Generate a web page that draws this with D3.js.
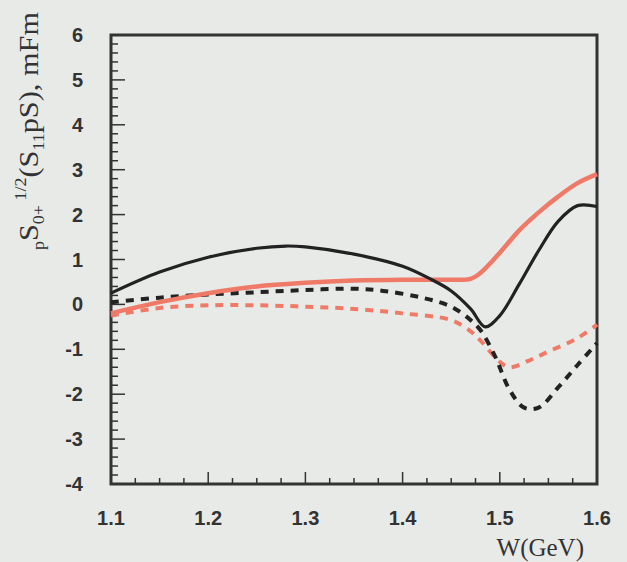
<!DOCTYPE html>
<html><head><meta charset="utf-8">
<script src="https://cdn.jsdelivr.net/npm/d3@7"></script>
<style>body{margin:0;background:#e8eae8;} svg{display:block;}</style>
</head><body>
<svg id="c" width="627" height="562"></svg>
<script>
const blackSolidW = [1.10,1.15,1.20,1.25,1.28,1.30,1.35,1.40,1.43,1.45,1.47,1.485,1.50,1.52,1.54,1.56,1.58,1.60];
const blackSolidV = [0.25,0.72,1.05,1.25,1.30,1.28,1.12,0.85,0.55,0.30,-0.10,-0.50,-0.25,0.45,1.20,1.85,2.20,2.18];
const redSolidW = [1.10,1.15,1.20,1.25,1.30,1.35,1.40,1.45,1.47,1.48,1.50,1.52,1.54,1.56,1.58,1.60];
const redSolidV = [-0.20,0.05,0.25,0.40,0.48,0.53,0.55,0.55,0.57,0.70,1.15,1.65,2.05,2.40,2.70,2.90];
const blackDashW = [1.10,1.15,1.20,1.25,1.30,1.35,1.38,1.42,1.45,1.47,1.48,1.495,1.51,1.525,1.54,1.56,1.58,1.60];
const blackDashV = [0.05,0.15,0.22,0.27,0.32,0.35,0.30,0.15,-0.05,-0.35,-0.57,-1.15,-1.90,-2.30,-2.30,-1.85,-1.35,-0.86];
const redDashW = [1.10,1.15,1.20,1.25,1.30,1.35,1.40,1.45,1.47,1.48,1.50,1.51,1.53,1.55,1.58,1.60];
const redDashV = [-0.25,-0.08,-0.02,-0.02,-0.05,-0.10,-0.20,-0.35,-0.60,-0.80,-1.28,-1.40,-1.25,-1.05,-0.75,-0.45];
const xTicks = [1.1,1.2,1.3,1.4,1.5,1.6];
const yTicks = [-4,-3,-2,-1,0,1,2,3,4,5,6];

const svg = d3.select('#c');
const L=111, R=597, T=35, B=484;
const x = d3.scaleLinear().domain([1.1,1.6]).range([L,R]);
const y = d3.scaleLinear().domain([-4,6]).range([B,T]);

const axisCol = '#333';
const xMinor = d3.range(0,21).map(i=>1.1+i*0.025);
svg.append('g').selectAll('line').data(xMinor).join('line')
  .attr('x1',d=>x(d)).attr('x2',d=>x(d)).attr('y1',B)
  .attr('y2',(d,i)=> i%4===0 ? B-12 : B-6)
  .attr('stroke',axisCol).attr('stroke-width',1.5);
const yMinor = d3.range(0,51).map(i=>-4+i*0.2);
svg.append('g').selectAll('line').data(yMinor).join('line')
  .attr('y1',d=>y(d)).attr('y2',d=>y(d)).attr('x1',L)
  .attr('x2',(d,i)=> i%5===0 ? L+14 : L+7)
  .attr('stroke',axisCol).attr('stroke-width',1.5);

svg.append('rect').attr('x',L).attr('y',T).attr('width',R-L).attr('height',B-T)
  .attr('fill','none').attr('stroke',axisCol).attr('stroke-width',3);

svg.append('g').selectAll('text').data(yTicks).join('text')
  .attr('x',83).attr('y',d=>y(d)+7).attr('text-anchor','end')
  .attr('font-family','Liberation Sans, Arial, sans-serif').attr('font-weight','bold')
  .attr('font-size',20).attr('fill','#333').text(d=>d);
svg.append('g').selectAll('text').data(xTicks).join('text')
  .attr('x',d=>x(d)).attr('y',525).attr('text-anchor','middle')
  .attr('font-family','Liberation Sans, Arial, sans-serif').attr('font-weight','bold')
  .attr('font-size',20).attr('fill','#333').text(d=>d.toFixed(1));

svg.append('text').attr('x',584).attr('y',556).attr('text-anchor','end')
  .attr('font-family','Liberation Serif, Times New Roman, serif').attr('font-size',25)
  .attr('fill','#333').text('W(GeV)');

const yt = svg.append('text').attr('transform','translate(38,250) rotate(-90)')
  .attr('font-family','Liberation Serif, Times New Roman, serif').attr('font-size',27).attr('fill','#333')
  .attr('textLength',238).attr('lengthAdjust','spacingAndGlyphs');
yt.append('tspan').attr('font-size',16).attr('dy',6).text('p');
yt.append('tspan').attr('dy',-6).text('S');
yt.append('tspan').attr('font-size',16).attr('dy',6).text('0+');
yt.append('tspan').attr('font-size',16).attr('dy',-18).text(' 1/2');
yt.append('tspan').attr('dy',12).text('(S');
yt.append('tspan').attr('font-size',16).attr('dy',6).text('11');
yt.append('tspan').attr('dy',-6).text('pS), mFm');

const line = d3.line().x(d=>x(d[0])).y(d=>y(d[1])).curve(d3.curveCatmullRom.alpha(0.5));
const zip=(a,b)=>a.map((v,i)=>[v,b[i]]);
const g = svg.append('g');
g.append('path').attr('d',line(zip(redDashW,redDashV))).attr('fill','none')
  .attr('stroke','#f07a68').attr('stroke-width',4).attr('stroke-dasharray','8,7');
g.append('path').attr('d',line(zip(blackDashW,blackDashV))).attr('fill','none')
  .attr('stroke','#222').attr('stroke-width',4).attr('stroke-dasharray','8,7');
g.append('path').attr('d',line(zip(redSolidW,redSolidV))).attr('fill','none')
  .attr('stroke','#f07a68').attr('stroke-width',4.5);
g.append('path').attr('d',line(zip(blackSolidW,blackSolidV))).attr('fill','none')
  .attr('stroke','#222').attr('stroke-width',3.2);
</script>
</body></html>
